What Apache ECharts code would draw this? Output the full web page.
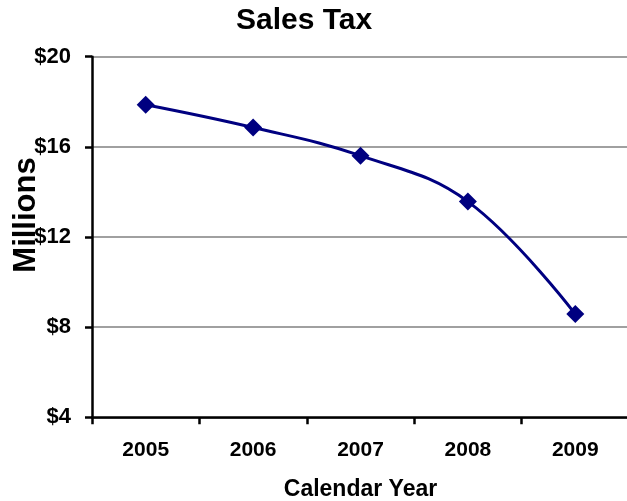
<!DOCTYPE html>
<html>
<head>
<meta charset="utf-8">
<script src="https://cdn.jsdelivr.net/npm/echarts@6/dist/echarts.min.js"></script>
<style>html,body{margin:0;padding:0;background:#fff}#c{width:627px;height:501px}</style>
</head>
<body>
<div id="c"></div>
<script>
var categories = ['2005', '2006', '2007', '2008', '2009'];
var salesTax = [17.87, 16.86, 15.61, 13.57, 8.58];
var yTicks = { min: 4, max: 20, interval: 4 };
var FONT = '"Liberation Sans", Arial, sans-serif';

var chart = echarts.init(document.getElementById('c'), null, { renderer: 'canvas' });
chart.setOption({
  backgroundColor: '#ffffff',
  animation: false,
  title: {
    text: 'Sales Tax',
    left: 236, top: 6, padding: 0,
    textStyle: { fontFamily: FONT, fontSize: 30, fontWeight: 'bold', color: '#000' }
  },
  grid: { left: 92, right: -2, top: 56.7, bottom: 83.7, containLabel: false, outerBoundsMode: 'none' },
  xAxis: {
    type: 'category',
    data: categories,
    boundaryGap: true,
    name: 'Calendar Year',
    nameLocation: 'middle',
    nameGap: 61,
    nameTextStyle: { fontFamily: FONT, fontSize: 23, fontWeight: 'bold', color: '#000' },
    axisLine: { lineStyle: { color: '#000', width: 2.5 } },
    axisTick: { show: true, alignWithLabel: false, length: 7, lineStyle: { color: '#000', width: 2.5 } },
    axisLabel: { fontFamily: FONT, fontSize: 21, fontWeight: 'bold', color: '#000', margin: 22 },
    splitLine: { show: false }
  },
  yAxis: {
    type: 'value',
    min: yTicks.min, max: yTicks.max, interval: yTicks.interval,
    axisLine: { show: true, lineStyle: { color: '#000', width: 2.5 } },
    axisTick: { show: true, length: 7, lineStyle: { color: '#000', width: 2.5 } },
    axisLabel: { fontFamily: FONT, fontSize: 22, fontWeight: 'bold', color: '#000', margin: 21,
      formatter: function (v) { return '$' + v; } },
    splitLine: { show: true, lineStyle: { color: '#808080', width: 1.5 } }
  },
  graphic: [{
    type: 'text',
    x: 26, y: 215,
    rotation: Math.PI / 2,
    style: {
      text: 'Millions',
      fontFamily: FONT, fontSize: 31, fontWeight: 'bold', fill: '#000',
      align: 'center', verticalAlign: 'middle'
    },
    z: 100
  }],
  series: [{
    type: 'line',
    data: salesTax,
    smooth: 0.4,
    symbol: 'diamond',
    symbolSize: 18,
    itemStyle: { color: '#000080' },
    lineStyle: { color: '#000080', width: 3 }
  }]
});
</script>
</body>
</html>
